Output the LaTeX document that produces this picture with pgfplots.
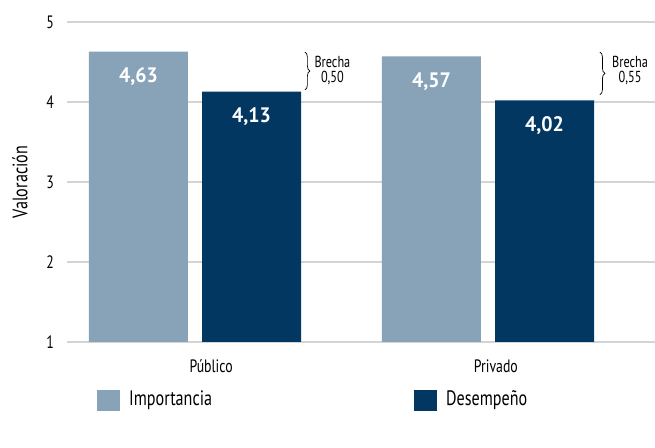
\documentclass[border=0pt]{standalone}
\usepackage{fontspec}
\setmainfont{PT Sans}[FakeStretch=0.77]
\newfontfamily\valfont{PT Sans}[FakeStretch=0.95]
\usepackage{pgfplots}
\pgfplotsset{compat=1.18}
\usetikzlibrary{decorations.pathreplacing}
\definecolor{lightbar}{HTML}{88A2B8}
\definecolor{darkbar}{HTML}{023762}
\definecolor{gridgray}{HTML}{D4D4D4}

\begin{document}
\begin{tikzpicture}
  \useasboundingbox (-67bp,-106bp) rectangle (588bp,342bp);
  \begin{axis}[
    scale only axis,
    width=588bp,
    height=320bp,
    xmin=-0.437, xmax=1.57,
    ymin=1, ymax=5,
    ytick={1,2,3,4,5},
    xtick={0.055,1.027},
    xticklabels={Público,Privado},
    ymajorgrids,
    grid style={line width=2bp, gridgray},
    axis line style={draw=none},
    major tick length=0pt,
    /pgf/number format/assume math mode=true,
    yticklabel style={font=\fontsize{18}{20}\selectfont, inner xsep=0pt, xshift=-13bp},
    xticklabel style={font=\fontsize{18}{20}\selectfont, anchor=center, yshift=-24bp},
    ylabel={Valoración},
    ylabel style={font=\fontsize{21}{23}\selectfont, at={(axis description cs:-0.08,0.5)}, anchor=center},
    nodes near coords,
    nodes near coords style={
      text=white, font=\valfont\bfseries\fontsize{21}{23}\selectfont,
      anchor=center, yshift=-25bp,
      /pgf/number format/.cd, fixed, fixed zerofill, precision=2, use comma},
  ]
    % Importancia
    \addplot[ybar, bar width=0.338, bar shift=0, fill=lightbar, draw=none]
      coordinates {(-0.193,4.63) (0.807,4.57)};
    % Desempeño
    \addplot[ybar, bar width=0.338, bar shift=0, fill=darkbar, draw=none]
      coordinates {(0.193,4.13) (1.193,4.02)};

    \draw[decorate, decoration={brace, amplitude=5bp}, line width=0.7bp]
      (axis cs:0.375,4.625) -- (axis cs:0.375,4.15);
    \draw[decorate, decoration={brace, amplitude=5bp}, line width=0.7bp]
      (axis cs:1.382,4.625) -- (axis cs:1.382,4.09);
    \node[align=center, inner sep=0pt, font=\fontsize{16}{15}\selectfont]
      at (axis cs:0.469,4.39) {Brecha\\0,50};
    \node[align=center, inner sep=0pt, font=\fontsize{16}{15}\selectfont]
      at (axis cs:1.485,4.39) {Brecha\\0,55};
  \end{axis}

  % legend
  \fill[lightbar] (30bp,-48bp) rectangle (53bp,-69bp);
  \node[anchor=west, inner sep=0pt, font=\fontsize{21}{23}\selectfont] at (62bp,-58.5bp) {Importancia};
  \fill[darkbar] (347bp,-48bp) rectangle (370bp,-69bp);
  \node[anchor=west, inner sep=0pt, font=\fontsize{21}{23}\selectfont] at (379bp,-58.5bp) {Desempeño};
\end{tikzpicture}
\end{document}
